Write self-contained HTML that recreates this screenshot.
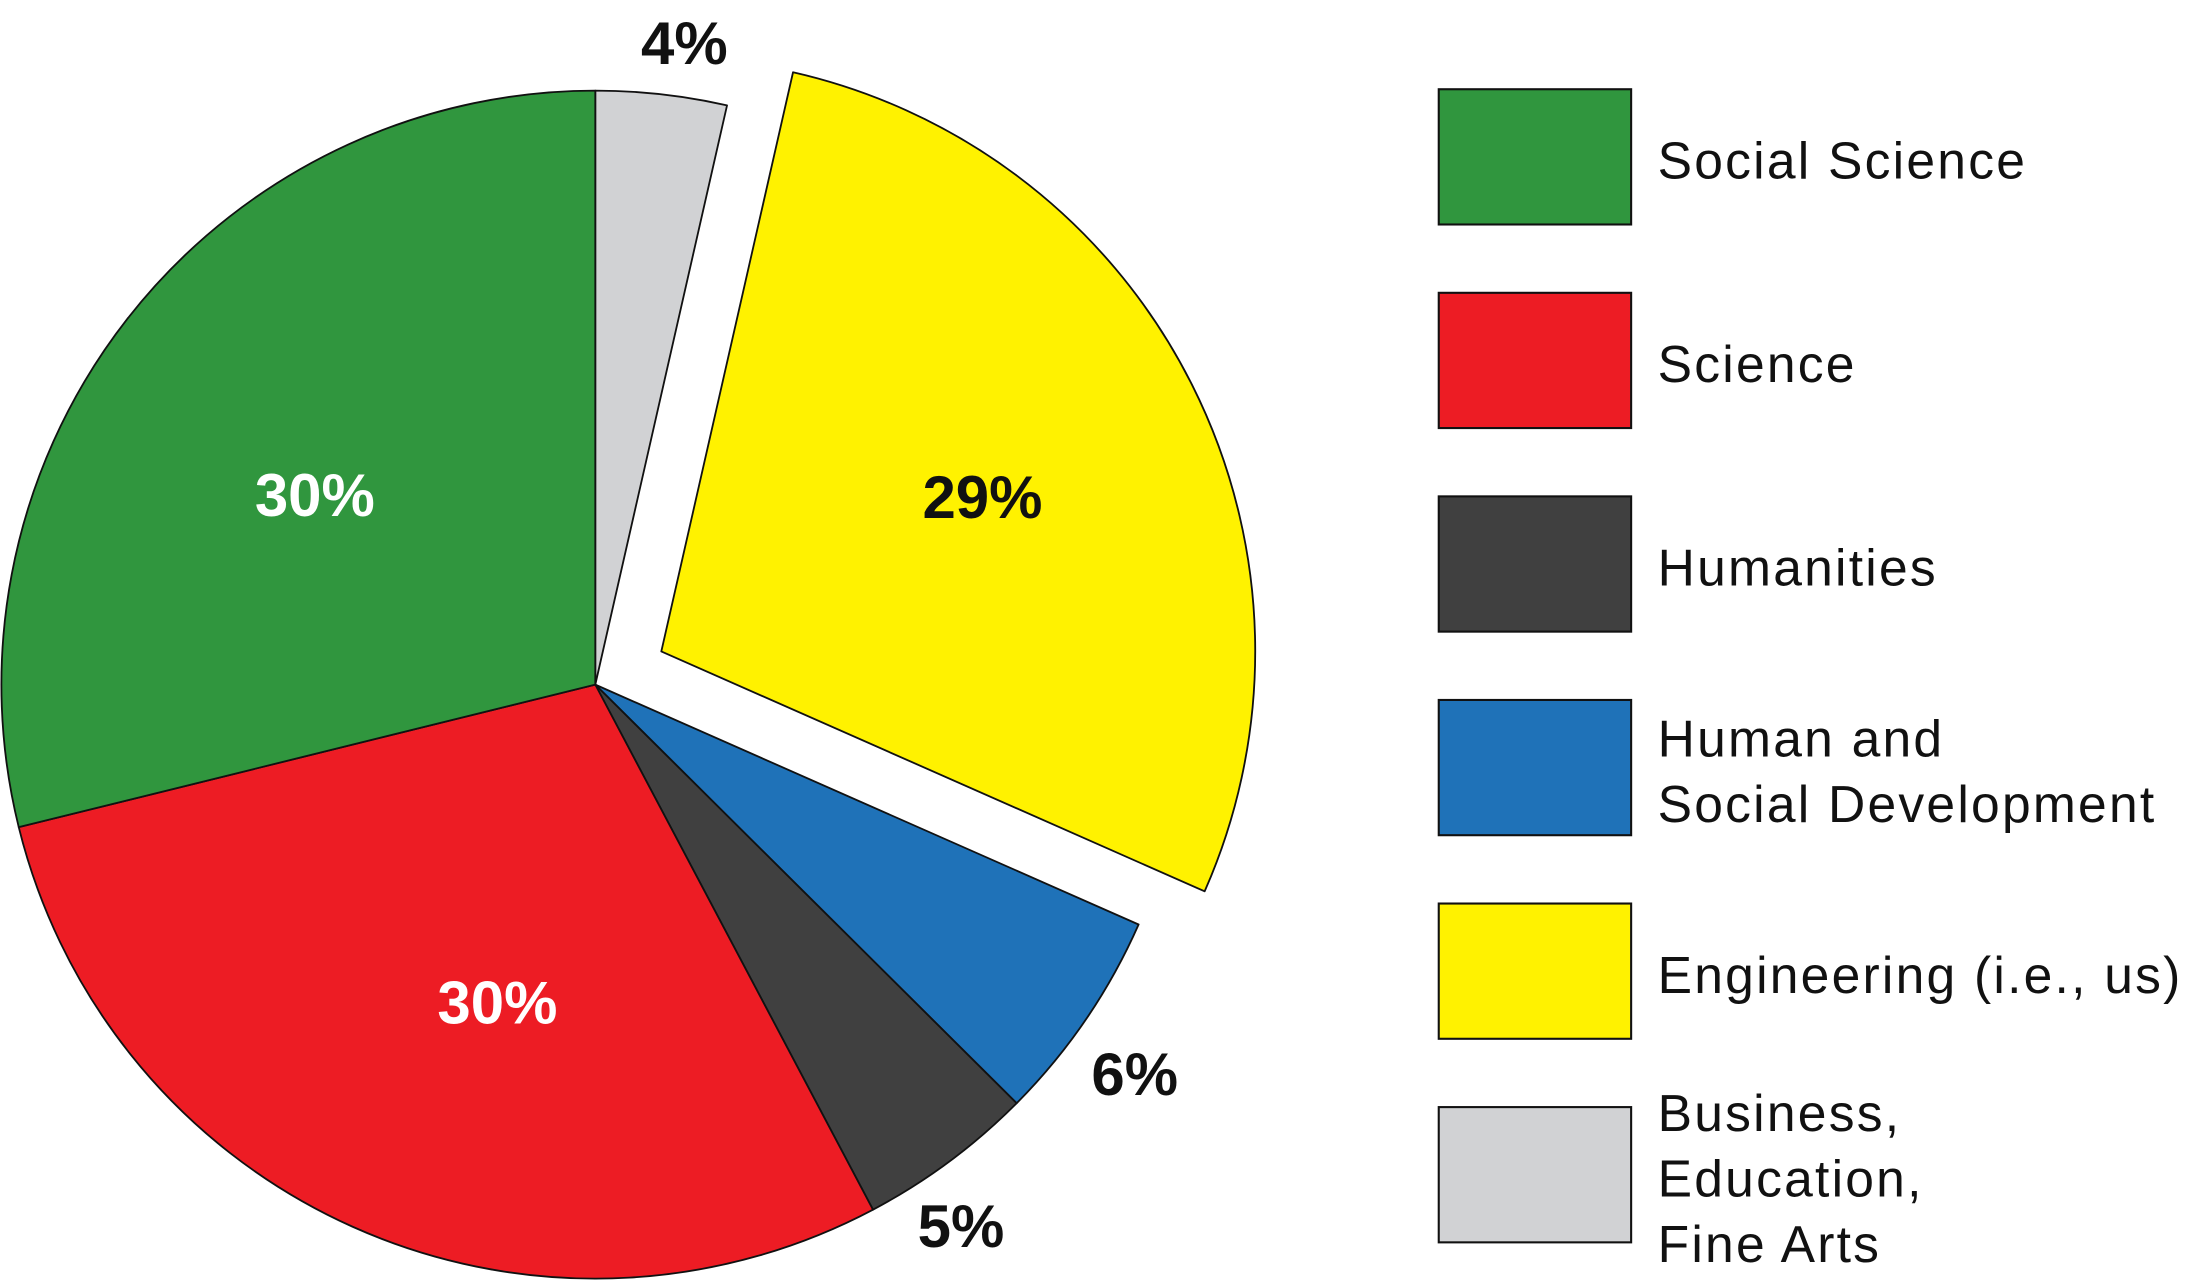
<!DOCTYPE html>
<html>
<head>
<meta charset="utf-8">
<style>
html,body{margin:0;padding:0;background:#fff;}
svg{display:block;}
text{font-family:"Liberation Sans",sans-serif;}
</style>
</head>
<body>
<svg id="chart" width="2186" height="1280" viewBox="0 0 1568 918" preserveAspectRatio="none" xmlns="http://www.w3.org/2000/svg">
  <g id="slices"></g>
  <g id="labels"></g>
  <g id="legend"></g>
</svg>
<script>
const categories = ["Business, Education, Fine Arts", "Engineering (i.e., us)", "Human and Social Development", "Humanities", "Science", "Social Science"];
const values = [3.56, 28.06, 5.83, 4.81, 28.89, 28.86];
const valueLabels = ["4%", "29%", "6%", "5%", "30%", "30%"];
const colors = ["#d1d2d4", "#fff200", "#1f72b8", "#404040", "#ed1c24", "#30963e"];
const exploded = [false, true, false, false, false, false];
const legendOrder = [5, 4, 3, 2, 1, 0];
const legendLines = [["Social Science"], ["Science"], ["Humanities"], ["Human and", "Social Development"], ["Engineering (i.e., us)"], ["Business,", "Education,", "Fine Arts"]];

// label placement tweaks (layout, not data): radius factor and angle shift per slice
const LABEL_R = [1.09, 0.60, 1.12, 1.10, 0.56, 0.57];
const LABEL_DA = [1.5, 1, 1.5, 2.5, -7, -4];

const NS = "http://www.w3.org/2000/svg";
const cx = 427, cy = 491, R = 426;
const total = values.reduce((a, b) => a + b, 0);
function pt(angDeg, r, ox, oy) {
  const a = angDeg * Math.PI / 180;
  return [cx + ox + r * Math.sin(a), cy + oy - r * Math.cos(a)];
}
const gSl = document.getElementById("slices");
const gLb = document.getElementById("labels");
let start = 0;
values.forEach((v, i) => {
  const sweep = v / total * 360;
  const end = start + sweep;
  const mid = start + sweep / 2;
  let ox = 0, oy = 0;
  if (exploded[i]) { const o = pt(mid, 53, 0, 0); ox = o[0] - cx; oy = o[1] - cy; }
  const p1 = pt(start, R, ox, oy), p2 = pt(end, R, ox, oy);
  const path = document.createElementNS(NS, "path");
  path.setAttribute("d", `M${cx + ox},${cy + oy} L${p1[0]},${p1[1]} A${R},${R} 0 ${sweep > 180 ? 1 : 0} 1 ${p2[0]},${p2[1]} Z`);
  path.setAttribute("fill", colors[i]);
  path.setAttribute("stroke", "#111");
  path.setAttribute("stroke-width", "1.3");
  path.setAttribute("stroke-linejoin", "round");
  
  
  gSl.appendChild(path);
  const inside = sweep > 40;
  const lp = pt(mid + LABEL_DA[i], R * LABEL_R[i], ox, oy);
  const t = document.createElementNS(NS, "text");
  t.setAttribute("x", lp[0]);
  t.setAttribute("y", lp[1] + 15);
  t.setAttribute("text-anchor", "middle");
  t.setAttribute("font-size", "43");
  t.setAttribute("font-weight", "bold");
  t.setAttribute("fill", inside && i !== 1 ? "#fff" : "#111");
  t.textContent = valueLabels[i];
  
  
  gLb.appendChild(t);
  start = end;
});
const gLg = document.getElementById("legend");
legendOrder.forEach((ci, k) => {
  const y = 64 + k * 146;
  const r = document.createElementNS(NS, "rect");
  r.setAttribute("x", 1032); r.setAttribute("y", y);
  r.setAttribute("width", 138); r.setAttribute("height", 97);
  r.setAttribute("fill", colors[ci]); r.setAttribute("stroke", "#111"); r.setAttribute("stroke-width", "1.5");
  
  
  gLg.appendChild(r);
  const lines = legendLines[k];
  const first = y + 48 + 16 - (lines.length - 1) * 23.5;
  lines.forEach((ln, j) => {
    const t = document.createElementNS(NS, "text");
    t.setAttribute("x", 1189);
    t.setAttribute("y", first + j * 47);
    t.setAttribute("font-size", "37");
    t.setAttribute("letter-spacing", "1.6");
    t.setAttribute("fill", "#111");
    t.textContent = ln;
    
    
    gLg.appendChild(t);
  });
});
</script>
</body>
</html>
